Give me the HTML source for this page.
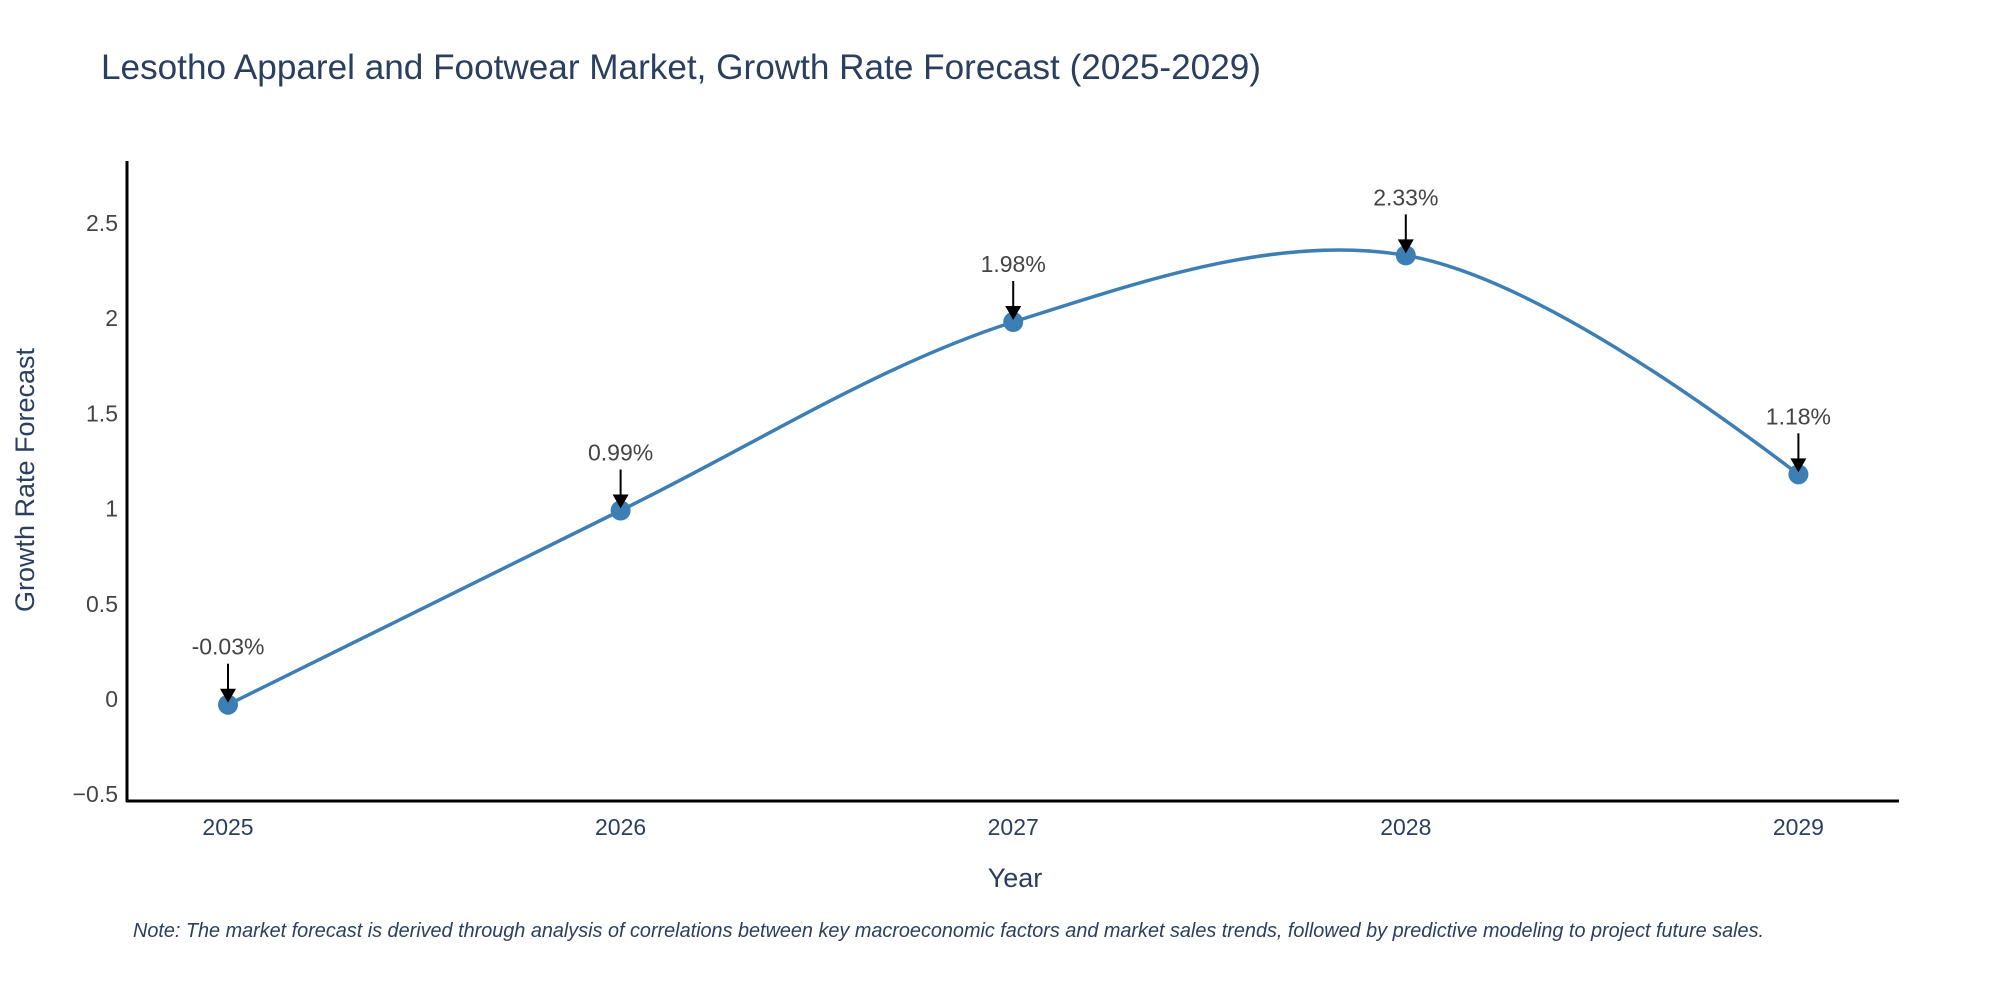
<!DOCTYPE html>
<html><head><meta charset="utf-8"><style>
html,body{margin:0;padding:0;background:#fff;}
svg text{font-family:"Liberation Sans","DejaVu Sans",sans-serif;}
</style></head><body>
<svg id="chart" width="2000" height="1000" viewBox="0 0 2000 1000" xmlns="http://www.w3.org/2000/svg">
<rect width="2000" height="1000" fill="#fff"/>
<text x="101" y="79" font-size="35" fill="#2a3f5f" textLength="1160" lengthAdjust="spacingAndGlyphs">Lesotho Apparel and Footwear Market, Growth Rate Forecast (2025-2029)</text>
<g id="yticks"></g><g id="xticks"></g>
<g id="series"></g><g id="annots"></g>
<line x1="127" y1="161" x2="127" y2="802" stroke="#000" stroke-width="3"/>
<line x1="126" y1="801" x2="1899" y2="801" stroke="#000" stroke-width="3"/>
<text x="1015" y="887" font-size="27" fill="#2a3f5f" text-anchor="middle">Year</text>
<text transform="translate(34,480) rotate(-90)" font-size="27" fill="#2a3f5f" text-anchor="middle">Growth Rate Forecast</text>
<text x="133" y="937" font-size="20" font-style="italic" fill="#2a3f5f" textLength="1631" lengthAdjust="spacingAndGlyphs">Note: The market forecast is derived through analysis of correlations between key macroeconomic factors and market sales trends, followed by predictive modeling to project future sales.</text>
</svg>
<script>
const years = [2025, 2026, 2027, 2028, 2029];
const growth = [-0.03, 0.99, 1.98, 2.33, 1.18];
const labels = ["-0.03%", "0.99%", "1.98%", "2.33%", "1.18%"];
const yTicks = [-0.5, 0, 0.5, 1, 1.5, 2, 2.5];
const yTickLabels = ["\u22120.5", "0", "0.5", "1", "1.5", "2", "2.5"];

const NS = "http://www.w3.org/2000/svg";
function xs(v){ return 228 + (v - 2025) * 392.6; }
function ys(v){ return 699 - v * 190.4; }
function mk(tag, attrs, parent){
  const e = document.createElementNS(NS, tag);
  for (const k in attrs) e.setAttribute(k, attrs[k]);
  parent.appendChild(e); return e;
}
const yt = document.getElementById('yticks');
yTicks.forEach((v,i)=>{
  const t = mk('text',{x:118,y:ys(v)+8,'font-size':23,fill:'#444','text-anchor':'end'},yt);
  
  
  t.textContent = yTickLabels[i];
});
const xt = document.getElementById('xticks');
years.forEach(y=>{
  const t = mk('text',{x:xs(y),y:835,'font-size':23,fill:'#2a3f5f','text-anchor':'middle'},xt);
  
  
  t.textContent = String(y);
});
const pts = years.map((y,i)=>[xs(y), ys(growth[i])]);
function tangent(p,c,n,s){
  const d1x=p[0]-c[0], d1y=p[1]-c[1], d2x=n[0]-c[0], d2y=n[1]-c[1];
  const d1a=Math.pow(d1x*d1x+d1y*d1y,0.25), d2a=Math.pow(d2x*d2x+d2y*d2y,0.25);
  const nx=(d2a*d2a*d1x-d1a*d1a*d2x)*s, ny=(d2a*d2a*d1y-d1a*d1a*d2y)*s;
  const den1=3*d2a*(d1a+d2a), den2=3*d1a*(d1a+d2a);
  return [[c[0]+nx/den1,c[1]+ny/den1],[c[0]-nx/den2,c[1]-ny/den2]];
}
const tg=[];
for(let i=1;i<pts.length-1;i++) tg.push(tangent(pts[i-1],pts[i],pts[i+1],1));
let d = `M${pts[0]} Q${tg[0][0]} ${pts[1]}`;
for(let i=1;i<pts.length-2;i++) d += ` C${tg[i-1][1]} ${tg[i][0]} ${pts[i+1]}`;
d += ` Q${tg[tg.length-1][1]} ${pts[pts.length-1]}`;
const s = document.getElementById('series');
const line = mk('path',{d:d,fill:'none',stroke:'#3d7fb4','stroke-width':3.5},s);


const an = document.getElementById('annots');
pts.forEach((p,i)=>{
  const c = mk('circle',{cx:p[0],cy:p[1],r:10,fill:'#3d7fb4'},s);
  
  
  const a = mk('line',{x1:p[0],y1:p[1]-41,x2:p[0],y2:p[1]-14,stroke:'#000','stroke-width':2},an);
  
  
  const h = mk('polygon',{points:`${p[0]-8},${p[1]-16} ${p[0]+8},${p[1]-16} ${p[0]},${p[1]-2}`,fill:'#000'},an);
  
  
  const t = mk('text',{x:p[0],y:p[1]-50,'font-size':23,fill:'#444','text-anchor':'middle'},an);
  
  
  t.textContent = labels[i];
});
</script>
</body></html>
